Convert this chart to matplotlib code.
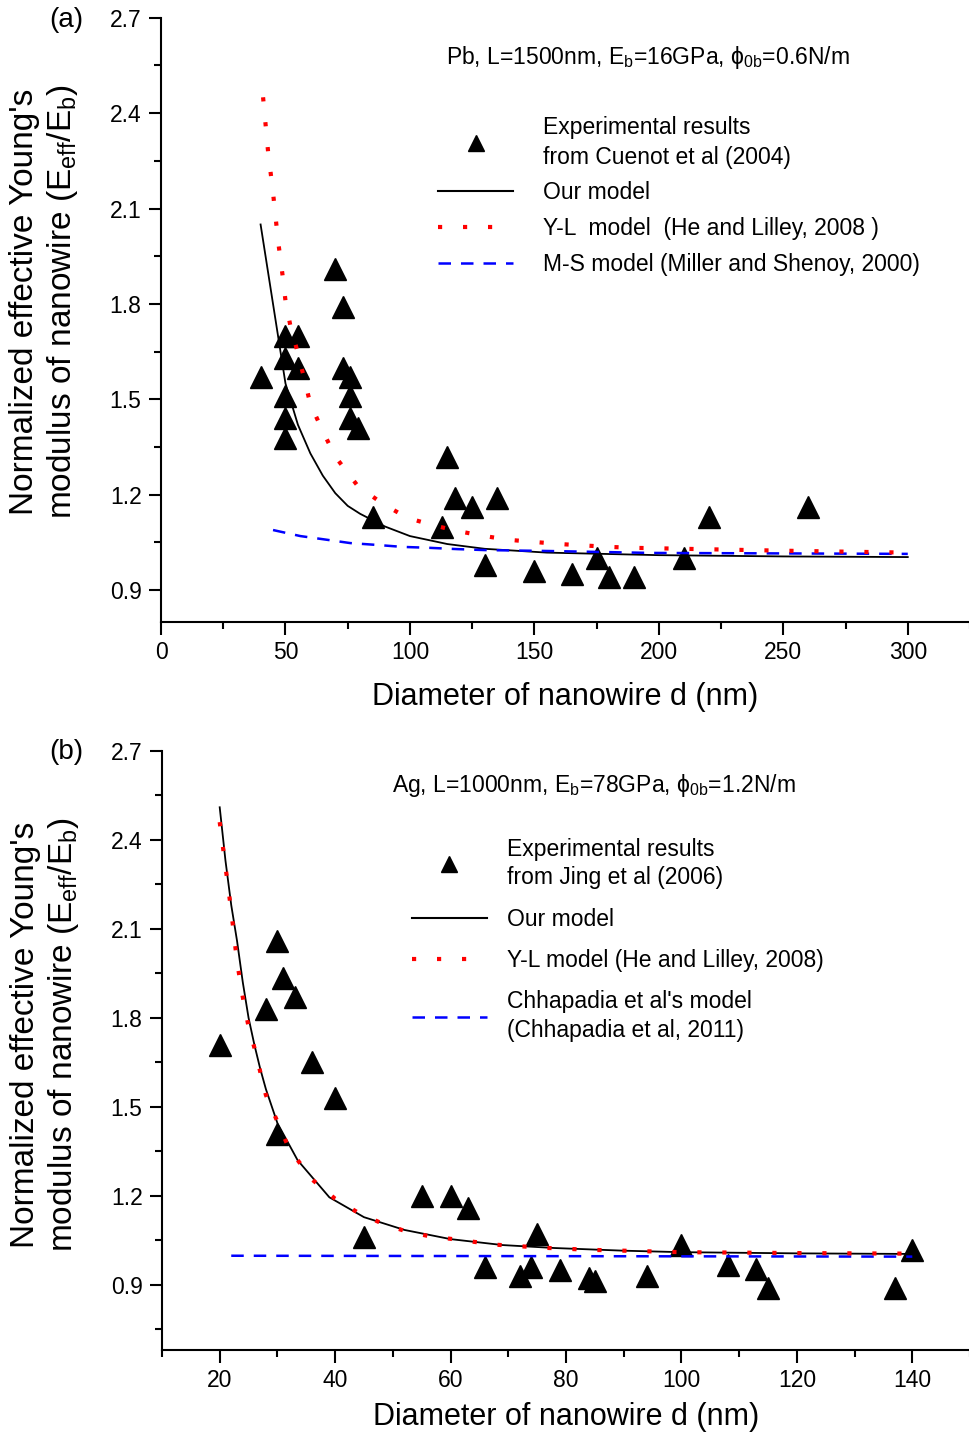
import matplotlib
matplotlib.use('Agg')
import matplotlib.pyplot as plt
from matplotlib.lines import Line2D
from matplotlib.ticker import MultipleLocator

plt.rcParams['font.family'] = ['Liberation Sans', 'DejaVu Sans']
plt.rcParams['mathtext.fontset'] = 'custom'
plt.rcParams['mathtext.rm'] = 'Liberation Sans'

# ---- panel (a): Pb ----
pb_exp_d = [40, 50, 55, 50, 55, 50, 50, 50, 70, 73, 73, 76, 76, 76, 79, 85,
            113, 115, 118, 125, 135, 130, 150, 165, 175, 180, 190, 210, 220, 260]
pb_exp_e = [1.57, 1.70, 1.70, 1.63, 1.60, 1.51, 1.44, 1.38, 1.91, 1.79, 1.60, 1.57,
            1.51, 1.44, 1.41, 1.13, 1.10, 1.32, 1.19, 1.16, 1.19, 0.98, 0.96, 0.95,
            1.00, 0.94, 0.94, 1.00, 1.13, 1.16]

pb_our_d = [40, 45, 50, 55, 60, 65, 70, 75, 80, 90, 100, 115, 130, 155, 200, 250, 300]
pb_our_e = [2.05, 1.80, 1.55, 1.42, 1.33, 1.26, 1.205, 1.165, 1.14, 1.10, 1.07, 1.045,
            1.03, 1.018, 1.01, 1.006, 1.004]

pb_yl_d = [41, 43, 45, 47, 49, 50, 52, 55, 58, 60, 65, 70, 79, 89, 99, 109, 119,
           130, 140, 160, 180, 190, 250, 300]
pb_yl_e = [2.45, 2.28, 2.15, 2.00, 1.88, 1.81, 1.73, 1.645, 1.55, 1.485, 1.40, 1.32,
           1.228, 1.172, 1.127, 1.105, 1.086, 1.07, 1.058, 1.045, 1.036, 1.033,
           1.024, 1.018]

pb_ms_d = [45, 56, 67, 76, 87, 97, 108, 119, 130, 156, 197, 300]
pb_ms_e = [1.089, 1.07, 1.058, 1.048, 1.042, 1.036, 1.033, 1.029, 1.026, 1.023,
           1.017, 1.014]

# ---- panel (b): Ag ----
ag_exp_d = [20, 28, 30, 31, 33, 36, 40, 30, 45, 55, 60, 63, 75, 66, 72, 74, 79, 84,
            85, 94, 100, 108, 113, 115, 137, 140]
ag_exp_e = [1.71, 1.83, 2.06, 1.935, 1.87, 1.65, 1.53, 1.41, 1.06, 1.20, 1.20, 1.16,
            1.07, 0.96, 0.93, 0.96, 0.95, 0.924, 0.913, 0.93, 1.035, 0.967, 0.954,
            0.89, 0.89, 1.018]

ag_our_d = [20, 21, 22, 23, 24, 25, 26, 27, 28, 30, 33.5, 39, 45, 52, 60, 69, 78,
            90, 100, 120, 140]
ag_our_e = [2.51, 2.33, 2.18, 2.06, 1.92, 1.80, 1.71, 1.63, 1.56, 1.445, 1.32, 1.195,
            1.128, 1.085, 1.054, 1.034, 1.024, 1.015, 1.01, 1.006, 1.004]

ag_yl_d = [20, 21, 22, 23, 24, 25, 26, 28, 30, 32, 36, 40, 44, 48, 52, 56, 60, 68,
           76, 84, 100, 120, 140]
ag_yl_e = [2.46, 2.31, 2.16, 1.99, 1.87, 1.77, 1.70, 1.54, 1.45, 1.36, 1.255, 1.19,
           1.143, 1.108, 1.082, 1.065, 1.055, 1.035, 1.025, 1.018, 1.01, 1.007, 1.005]

ag_ch_d = [22, 140]
ag_ch_e = [0.998, 0.995]

BLACK = '#000000'
RED = '#ff0000'
BLUE = '#0000ff'
YL_STYLE = (0, (1, 5))
MS_STYLE = (0, (5, 4))


def styleAxes(ax, xlim, ylim, xmajor, xminor):
    ax.set_xlim(*xlim)
    ax.set_ylim(*ylim)
    ax.spines['top'].set_visible(False)
    ax.spines['right'].set_visible(False)
    for s in ('left', 'bottom'):
        ax.spines[s].set_linewidth(1.5)
    ax.xaxis.set_major_locator(MultipleLocator(xmajor))
    ax.xaxis.set_minor_locator(MultipleLocator(xminor))
    ax.yaxis.set_major_locator(MultipleLocator(0.3))
    ax.yaxis.set_minor_locator(MultipleLocator(0.15))
    ax.tick_params(which='major', direction='out', length=9, width=1.5,
                   labelsize=16.5, pad=5)
    ax.tick_params(which='minor', direction='out', length=5, width=1.5)
    ax.set_ylabel("Normalized effective Young's\nmodulus of nanowire "
                  r"($\mathregular{E_{eff}/E_b}$)", fontsize=24, linespacing=1.2)
    ax.set_xlabel('Diameter of nanowire d (nm)', fontsize=22, va='top')


def drawPanel(ax, expD, expE, ourD, ourE, ylD, ylE, thirdD, thirdE):
    ax.plot(expD, expE, linestyle='none', marker='^', ms=16.5, color=BLACK, zorder=2)
    ax.plot(ourD, ourE, color=BLACK, lw=1.3, zorder=3)
    ax.plot(ylD, ylE, color=RED, lw=3, linestyle=YL_STYLE, zorder=4)
    ax.plot(thirdD, thirdE, color=BLUE, lw=1.8, linestyle=MS_STYLE, zorder=3)


def addLegend(ax, labels, anchor, spacing, textpad, linespacing):
    handles = [Line2D([], [], linestyle='none', marker='^', ms=11, color=BLACK),
               Line2D([], [], color=BLACK, lw=1.5),
               Line2D([], [], color=RED, lw=3, linestyle=YL_STYLE),
               Line2D([], [], color=BLUE, lw=1.8, linestyle=MS_STYLE)]
    leg = ax.legend(handles, labels, loc='upper left', bbox_to_anchor=anchor,
                    frameon=False, fontsize=16.5, handlelength=3.3,
                    handletextpad=textpad, labelspacing=spacing,
                    borderpad=0, borderaxespad=0)
    for t in leg.get_texts():
        t.set_linespacing(linespacing)


fig = plt.figure(figsize=(9.7, 14.35), dpi=100)
axA = fig.add_axes([0.166, 0.5666, 0.834, 0.421])
axB = fig.add_axes([0.167, 0.0592, 0.833, 0.4175])

# panel (a)
drawPanel(axA, pb_exp_d, pb_exp_e, pb_our_d, pb_our_e, pb_yl_d, pb_yl_e,
          pb_ms_d, pb_ms_e)
styleAxes(axA, (0, 325), (0.8, 2.7), 50, 25)
axA.yaxis.set_label_coords(-0.1, 0.53)
axA.xaxis.set_label_coords(0.5, -0.1)
axA.text(0.602, 0.935,
         r'Pb, L=1500nm, E$\mathregular{_b}$=16GPa, ϕ$\mathregular{_{0b}}$=0.6N/m',
         transform=axA.transAxes, ha='center', va='center', fontsize=16.5)
addLegend(axA, ['Experimental results\nfrom Cuenot et al (2004)', 'Our model',
                'Y-L  model  (He and Lilley, 2008 )',
                'M-S model (Miller and Shenoy, 2000)'],
          (0.342, 0.838), 0.55, 1.3, 1.4)

# panel (b)
drawPanel(axB, ag_exp_d, ag_exp_e, ag_our_d, ag_our_e, ag_yl_d, ag_yl_e,
          ag_ch_d, ag_ch_e)
styleAxes(axB, (10, 150), (0.68, 2.7), 20, 10)
axB.yaxis.set_label_coords(-0.1, 0.526)
axB.xaxis.set_label_coords(0.5, -0.087)
axB.text(0.535, 0.942,
         r'Ag, L=1000nm, E$\mathregular{_b}$=78GPa, ϕ$\mathregular{_{0b}}$=1.2N/m',
         transform=axB.transAxes, ha='center', va='center', fontsize=16.5)
addLegend(axB, ['Experimental results\nfrom Jing et al (2006)', 'Our model',
                'Y-L model (He and Lilley, 2008)',
                "Chhapadia et al's model\n(Chhapadia et al, 2011)"],
          (0.309, 0.855), 0.8, 0.85, 1.3)

fig.text(0.068, 0.986, '(a)', fontsize=20, ha='center', va='center')
fig.text(0.068, 0.476, '(b)', fontsize=20, ha='center', va='center')

fig.savefig('out.png', dpi=100)
